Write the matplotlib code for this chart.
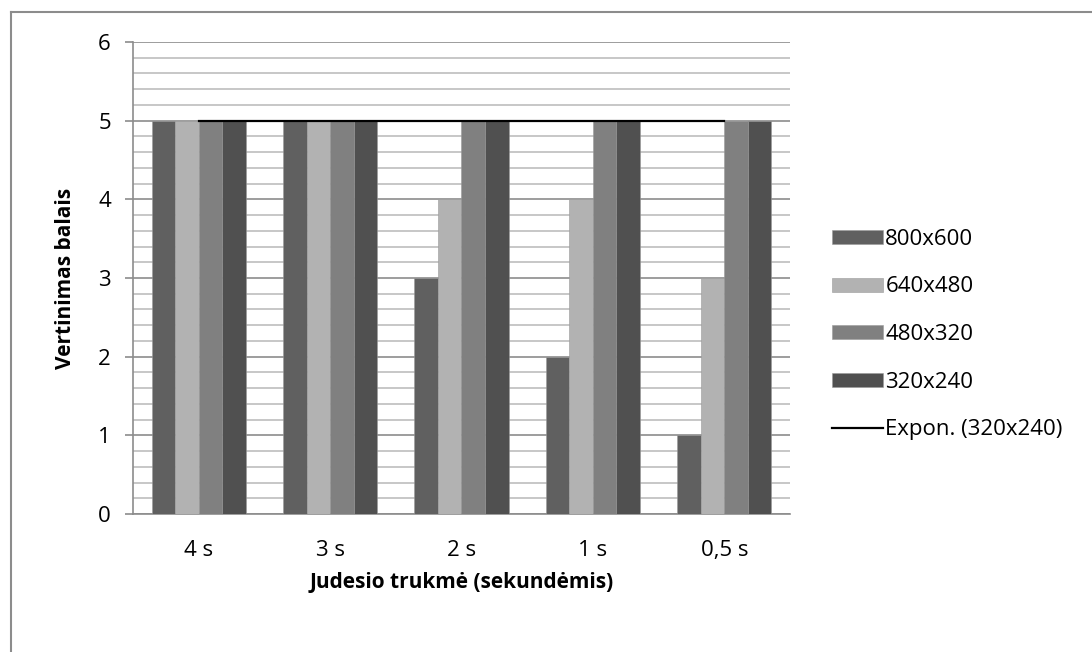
import numpy as np
import matplotlib.pyplot as plt
from matplotlib.lines import Line2D
from matplotlib.ticker import MultipleLocator

# data
categories = ['4 s', '3 s', '2 s', '1 s', '0,5 s']
series_names = ['800x600', '640x480', '480x320', '320x240']
v800 = [5, 5, 3, 2, 1]
v640 = [5, 5, 4, 4, 3]
v480 = [5, 5, 5, 5, 5]
v320 = [5, 5, 5, 5, 5]
colors = ['#606060', '#b2b2b2', '#808080', '#505050']

plt.rcParams['font.family'] = ['Open Sans', 'DejaVu Sans']

fig = plt.figure(figsize=(10.92, 6.52), dpi=100)
ax = fig.add_axes([0.1218, 0.2117, 0.6016, 0.7239])

x = np.arange(len(categories))
w = 0.179
all_vals = [v800, v640, v480, v320]
for i, (vals, name, c) in enumerate(zip(all_vals, series_names, colors)):
    ax.bar(x + (i - 1.5) * w, vals, w, color=c, label=name, zorder=3,
           edgecolor='#9a9a9a', linewidth=0.4)

# exponential trend line for 320x240 (fit on the values; constant here)
coef = np.polyfit(x, np.log(v320), 1)
trend = np.exp(np.polyval(coef, x))
ax.plot(x, trend, color='black', lw=1.6, label='Expon. (320x240)', zorder=4)

ax.set_xlim(-0.5, 4.5)
ax.set_ylim(0, 6)
ax.yaxis.set_major_locator(MultipleLocator(1))
ax.yaxis.set_minor_locator(MultipleLocator(0.2))
ax.grid(which='major', axis='y', color='#8c8c8c', lw=1.2, zorder=0)
ax.grid(which='minor', axis='y', color='#bdbdbd', lw=1.2, zorder=0)
ax.set_xticks(x)
ax.set_xticklabels(categories)
ax.tick_params(axis='x', length=0, pad=19, labelsize=16)
ax.tick_params(axis='y', which='major', length=6, width=1.2, color='#8c8c8c',
               pad=10, labelsize=16)
ax.tick_params(axis='y', which='minor', length=0)
for s in ['top', 'right']:
    ax.spines[s].set_visible(False)
for s in ['left', 'bottom']:
    ax.spines[s].set_color('#8c8c8c')
    ax.spines[s].set_linewidth(1.2)

ax.set_ylabel('Vertinimas balais', fontsize=15, fontweight='bold', labelpad=16)
ax.set_xlabel('Judesio trukmė (sekundėmis)', fontsize=15, fontweight='bold', labelpad=8)

# bars first, trend line last (as in the original legend)
handles, labels = ax.get_legend_handles_labels()
order = [1, 2, 3, 4, 0]
leg = ax.legend([handles[k] for k in order], [labels[k] for k in order],
                loc='center left', bbox_to_anchor=(1.064, 0.38), frameon=False,
                fontsize=16, handlelength=2.3, handleheight=0.6,
                handletextpad=0.1, labelspacing=1.2, borderpad=0, borderaxespad=0)

# chart frame: only left and top edges visible in the crop
fig.add_artist(Line2D([10.5 / 1092, 10.5 / 1092], [0, 1 - 11.5 / 652],
                      transform=fig.transFigure, color='#8c8c8c', lw=1.5))
fig.add_artist(Line2D([10.5 / 1092, 1], [1 - 11.5 / 652, 1 - 11.5 / 652],
                      transform=fig.transFigure, color='#8c8c8c', lw=1.5))

fig.savefig('out.png', dpi=100)
